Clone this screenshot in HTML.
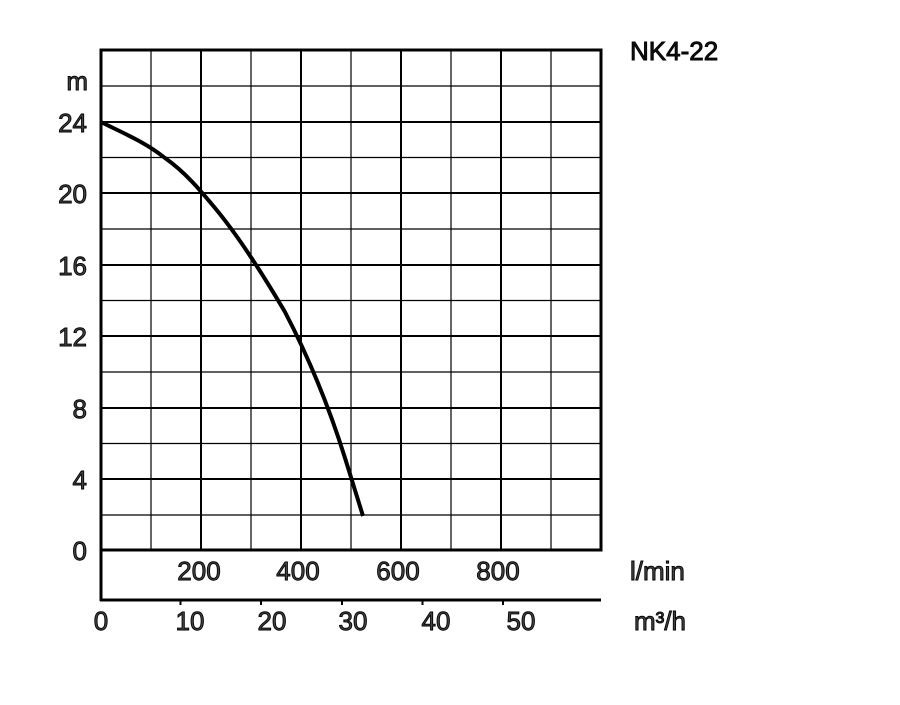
<!DOCTYPE html>
<html><head><style>body{margin:0;background:#fff}</style></head><body>
<svg width="900" height="700" xmlns="http://www.w3.org/2000/svg" font-family="Liberation Sans, sans-serif" font-size="26" fill="#444" stroke="#000" stroke-width="0.9">
<g stroke="#000" stroke-width="1.2">
<line x1="151" y1="50" x2="151" y2="550"/><line x1="251" y1="50" x2="251" y2="550"/><line x1="351" y1="50" x2="351" y2="550"/><line x1="451" y1="50" x2="451" y2="550"/><line x1="551" y1="50" x2="551" y2="550"/>
<line x1="101" y1="86" x2="601" y2="86"/><line x1="101" y1="157.5" x2="601" y2="157.5"/><line x1="101" y1="229" x2="601" y2="229"/><line x1="101" y1="300.5" x2="601" y2="300.5"/><line x1="101" y1="372" x2="601" y2="372"/><line x1="101" y1="443.5" x2="601" y2="443.5"/><line x1="101" y1="515" x2="601" y2="515"/>
</g>
<g stroke="#000" stroke-width="2">
<line x1="201" y1="50" x2="201" y2="550"/><line x1="301" y1="50" x2="301" y2="550"/><line x1="401" y1="50" x2="401" y2="550"/><line x1="501" y1="50" x2="501" y2="550"/>
<line x1="101" y1="122" x2="601" y2="122"/><line x1="101" y1="193" x2="601" y2="193"/><line x1="101" y1="265" x2="601" y2="265"/><line x1="101" y1="336" x2="601" y2="336"/><line x1="101" y1="408" x2="601" y2="408"/><line x1="101" y1="479" x2="601" y2="479"/>
</g>
<g stroke="#000" stroke-width="3" fill="none">
<rect x="101" y="50" width="500" height="500"/>
<line x1="101" y1="550" x2="101" y2="601"/>
<line x1="100" y1="600" x2="601" y2="600"/>
</g>
<g stroke="#000" stroke-width="2">
<line x1="180.5" y1="600" x2="180.5" y2="605"/><line x1="261" y1="600" x2="261" y2="605"/><line x1="342" y1="600" x2="342" y2="605"/><line x1="422.5" y1="600" x2="422.5" y2="605"/><line x1="503" y1="600" x2="503" y2="605"/>
</g>
<path d="M101,122 C125,134 145,142 165,158 C185,172 200,190 215,208 C240,238 265,278 285,312 C310,360 330,410 345,458 C352,480 358,500 363,516" stroke="#000" stroke-width="4" fill="none"/>
<g text-anchor="end">
<text x="88" y="90">m</text><text x="87" y="132">24</text><text x="87" y="203">20</text><text x="87" y="275">16</text><text x="87" y="346">12</text><text x="87" y="418">8</text><text x="87" y="489">4</text><text x="87" y="560">0</text>
</g>
<g text-anchor="middle">
<text x="199" y="580">200</text><text x="298" y="580">400</text><text x="398" y="580">600</text><text x="498" y="580">800</text>
<text x="101" y="630">0</text><text x="190" y="630">10</text><text x="272" y="630">20</text><text x="353" y="630">30</text><text x="436" y="630">40</text><text x="521" y="630">50</text>
</g>
<text x="630" y="580">l/min</text>
<text x="634" y="630">m³/h</text>
<text x="630" y="60" fill="#111">NK4-22</text>
</svg>
</body></html>
